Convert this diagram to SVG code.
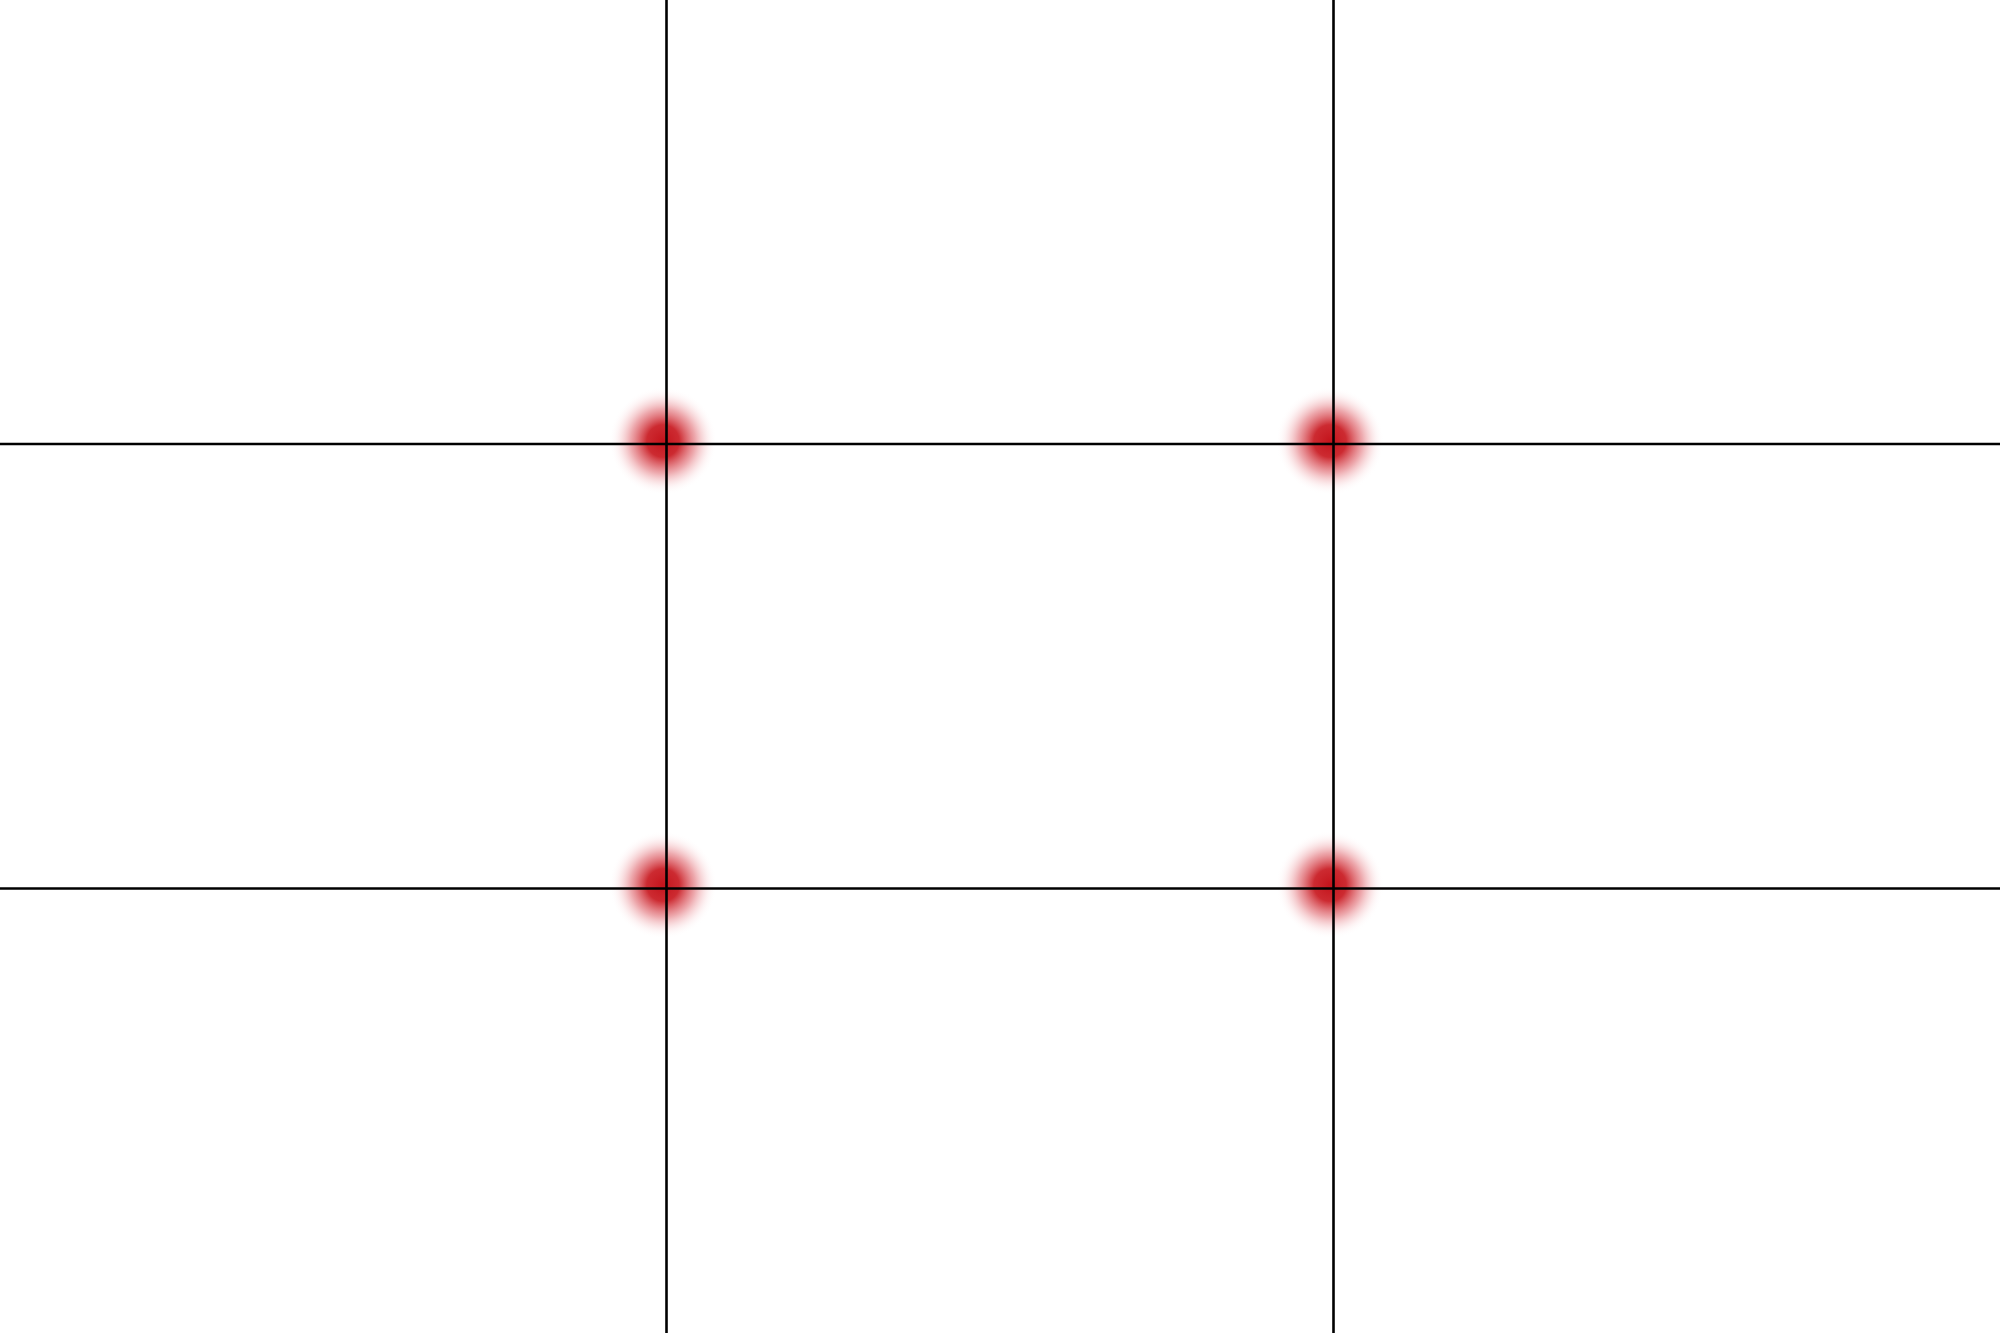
<svg xmlns="http://www.w3.org/2000/svg" width="2000" height="1333" viewBox="0 0 2000 1333">
<defs>
<radialGradient id="dot">
<stop offset="0" stop-color="#c4141c" stop-opacity="1"/>
<stop offset="0.3" stop-color="#c8181f" stop-opacity="0.92"/>
<stop offset="0.6" stop-color="#d8404a" stop-opacity="0.45"/>
<stop offset="0.85" stop-color="#f0a0a6" stop-opacity="0.12"/>
<stop offset="1" stop-color="#ffffff" stop-opacity="0"/>
</radialGradient>
<style>.g{stroke:#000;stroke-width:2.6;fill:none}</style>
</defs>
<rect width="2000" height="1333" fill="#fff"/>
<g id="dots">
<circle cx="663" cy="441" r="54" fill="url(#dot)"/>
<circle cx="1330" cy="441" r="54" fill="url(#dot)"/>
<circle cx="663" cy="885" r="54" fill="url(#dot)"/>
<circle cx="1330" cy="885" r="54" fill="url(#dot)"/>
</g>
<g id="grid">
<line class="g" x1="666.5" y1="0" x2="666.5" y2="1333"/>
<line class="g" x1="1333.5" y1="0" x2="1333.5" y2="1333"/>
<line class="g" x1="0" y1="444" x2="2000" y2="444"/>
<line class="g" x1="0" y1="888.5" x2="2000" y2="888.5"/>
</g>
</svg>
